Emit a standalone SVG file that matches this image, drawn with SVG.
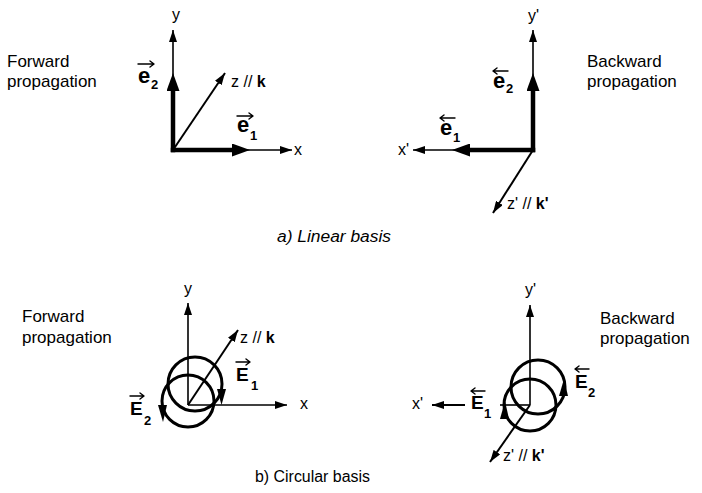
<svg xmlns="http://www.w3.org/2000/svg" width="702" height="493" viewBox="0 0 702 493">
<style>
.t{font-family:"Liberation Sans",Arial,sans-serif;fill:#000}
.lab{font-size:17px}
.ax{font-size:16px}
.ve{font-size:22px;font-weight:bold}
.vE{font-size:19px;font-weight:bold}
.sub{font-size:13px;font-weight:bold}
.cap{font-size:16px}
.thin{stroke:#000;stroke-width:1.6;fill:none}
.thick{stroke:#000;stroke-width:4.5;fill:none;stroke-linecap:square}
.circ{stroke:#000;stroke-width:3;fill:none}
.head{fill:#000}
.acc{stroke:#000;stroke-width:1.4;fill:none;stroke-linecap:round;stroke-linejoin:round}
</style>
<defs>
<marker id="ah" viewBox="0 0 12 8" refX="12" refY="4" markerWidth="12" markerHeight="8" markerUnits="userSpaceOnUse" orient="auto"><path d="M0,0 L12,4 L0,8 z" fill="#000"/></marker>
<marker id="vh" viewBox="0 0 18 13" refX="0" refY="6.5" markerWidth="18" markerHeight="13" markerUnits="userSpaceOnUse" orient="auto"><path d="M0,0 L18,6.5 L0,13 z" fill="#000"/></marker>
</defs>

<g id="panel-a-forward">
<text class="t lab" x="7" y="67">Forward</text>
<text class="t lab" x="7" y="87">propagation</text>
<line class="thin" x1="173" y1="150" x2="173" y2="30" marker-end="url(#ah)"/>
<line class="thin" x1="173" y1="150" x2="292" y2="150" marker-end="url(#ah)"/>
<line class="thin" x1="173" y1="150" x2="225" y2="73" marker-end="url(#ah)" style="stroke-width:2"/>
<line class="thick" x1="173" y1="150" x2="173" y2="91" marker-end="url(#vh)"/>
<line class="thick" x1="173" y1="150" x2="232" y2="150" marker-end="url(#vh)"/>
<text class="t ax" x="172" y="20">y</text>
<text class="t ax" x="294" y="155">x</text>
<text class="t ax" x="231" y="87">z // <tspan font-weight="bold">k</tspan></text>
<text class="t ve" x="138" y="83">e</text>
<text class="t sub" x="151" y="89">2</text>
<text class="t ve" x="237" y="132">e</text>
<text class="t sub" x="250" y="140">1</text>
</g>

<g id="panel-a-backward">
<text class="t lab" x="587" y="67">Backward</text>
<text class="t lab" x="587" y="87">propagation</text>
<line class="thin" x1="533" y1="150" x2="533" y2="30" marker-end="url(#ah)"/>
<line class="thin" x1="533" y1="150" x2="413" y2="150" marker-end="url(#ah)"/>
<line class="thin" x1="533" y1="150" x2="493" y2="213" marker-end="url(#ah)" style="stroke-width:2"/>
<line class="thick" x1="533" y1="150" x2="533" y2="91" marker-end="url(#vh)"/>
<line class="thick" x1="533" y1="150" x2="470" y2="150" marker-end="url(#vh)"/>
<text class="t ax" x="528" y="21">y'</text>
<text class="t ax" x="398" y="155">x'</text>
<text class="t ax" x="507" y="209">z' // <tspan font-weight="bold">k'</tspan></text>
<text class="t ve" x="493" y="88">e</text>
<text class="t sub" x="506" y="93">2</text>
<text class="t ve" x="440" y="135">e</text>
<text class="t sub" x="453" y="142">1</text>
</g>

<text class="t cap" x="277" y="242" font-style="italic" textLength="114" lengthAdjust="spacingAndGlyphs">a) Linear basis</text>

<g id="panel-b-forward">
<text class="t lab" x="22" y="322">Forward</text>
<text class="t lab" x="22" y="343">propagation</text>
<line class="thin" x1="188" y1="405" x2="188" y2="303" marker-end="url(#ah)"/>
<line class="thin" x1="188" y1="405" x2="287" y2="405" marker-end="url(#ah)"/>
<line class="thin" x1="188" y1="405" x2="238" y2="330" marker-end="url(#ah)" style="stroke-width:2"/>
<circle class="circ" cx="195" cy="384" r="27"/>
<circle class="circ" cx="188" cy="401" r="26"/>
<path class="head" d="M217,389 L226,389 L221.5,405 z"/>
<path class="head" d="M158,405 L167,405 L163,422 z"/>
<text class="t ax" x="184" y="294">y</text>
<text class="t ax" x="300" y="409">x</text>
<text class="t ax" x="240" y="343">z // <tspan font-weight="bold">k</tspan></text>
<text class="t vE" x="236" y="381">E</text>
<text class="t sub" x="251" y="390">1</text>
<text class="t vE" x="130" y="415">E</text>
<text class="t sub" x="144" y="425">2</text>
</g>

<g id="panel-b-backward">
<text class="t lab" x="600" y="324">Backward</text>
<text class="t lab" x="600" y="344">propagation</text>
<line class="thin" x1="530" y1="405" x2="530" y2="305" marker-end="url(#ah)"/>
<line class="thin" x1="530" y1="405" x2="500" y2="405"/>
<line class="thin" x1="465" y1="405" x2="432" y2="405" marker-end="url(#ah)" style="stroke-width:2"/>
<line class="thin" x1="530" y1="405" x2="490" y2="462" marker-end="url(#ah)" style="stroke-width:2"/>
<circle class="circ" cx="538" cy="387" r="27"/>
<circle class="circ" cx="530" cy="405" r="26"/>
<path class="head" d="M559,396 L568,396 L564,379 z"/>
<path class="head" d="M500,419 L509,419 L505,401 z"/>
<text class="t ax" x="525" y="295">y'</text>
<text class="t ax" x="412" y="409">x'</text>
<text class="t ax" x="503" y="461">z' // <tspan font-weight="bold">k'</tspan></text>
<text class="t vE" x="471" y="409">E</text>
<text class="t sub" x="484" y="418">1</text>
<text class="t vE" x="575" y="388">E</text>
<text class="t sub" x="588" y="397">2</text>
</g>

<g id="vector-accents">
<path class="acc" d="M138,64 H154 M150,61 L154,64 L150,67"/>
<path class="acc" d="M237,116 H253 M249,113 L253,116 L249,119"/>
<path class="acc" d="M493,71 H508 M497,68 L493,71 L497,74"/>
<path class="acc" d="M440,118 H455 M444,115 L440,118 L444,121"/>
<path class="acc" d="M236,362 H250 M246,359 L250,362 L246,365"/>
<path class="acc" d="M130,396 H144 M140,393 L144,396 L140,399"/>
<path class="acc" d="M471,391 H485 M475,388 L471,391 L475,394"/>
<path class="acc" d="M575,369 H589 M579,366 L575,369 L579,372"/>
</g>

<text class="t cap" x="255" y="482" textLength="115" lengthAdjust="spacingAndGlyphs">b) Circular basis</text>
</svg>
